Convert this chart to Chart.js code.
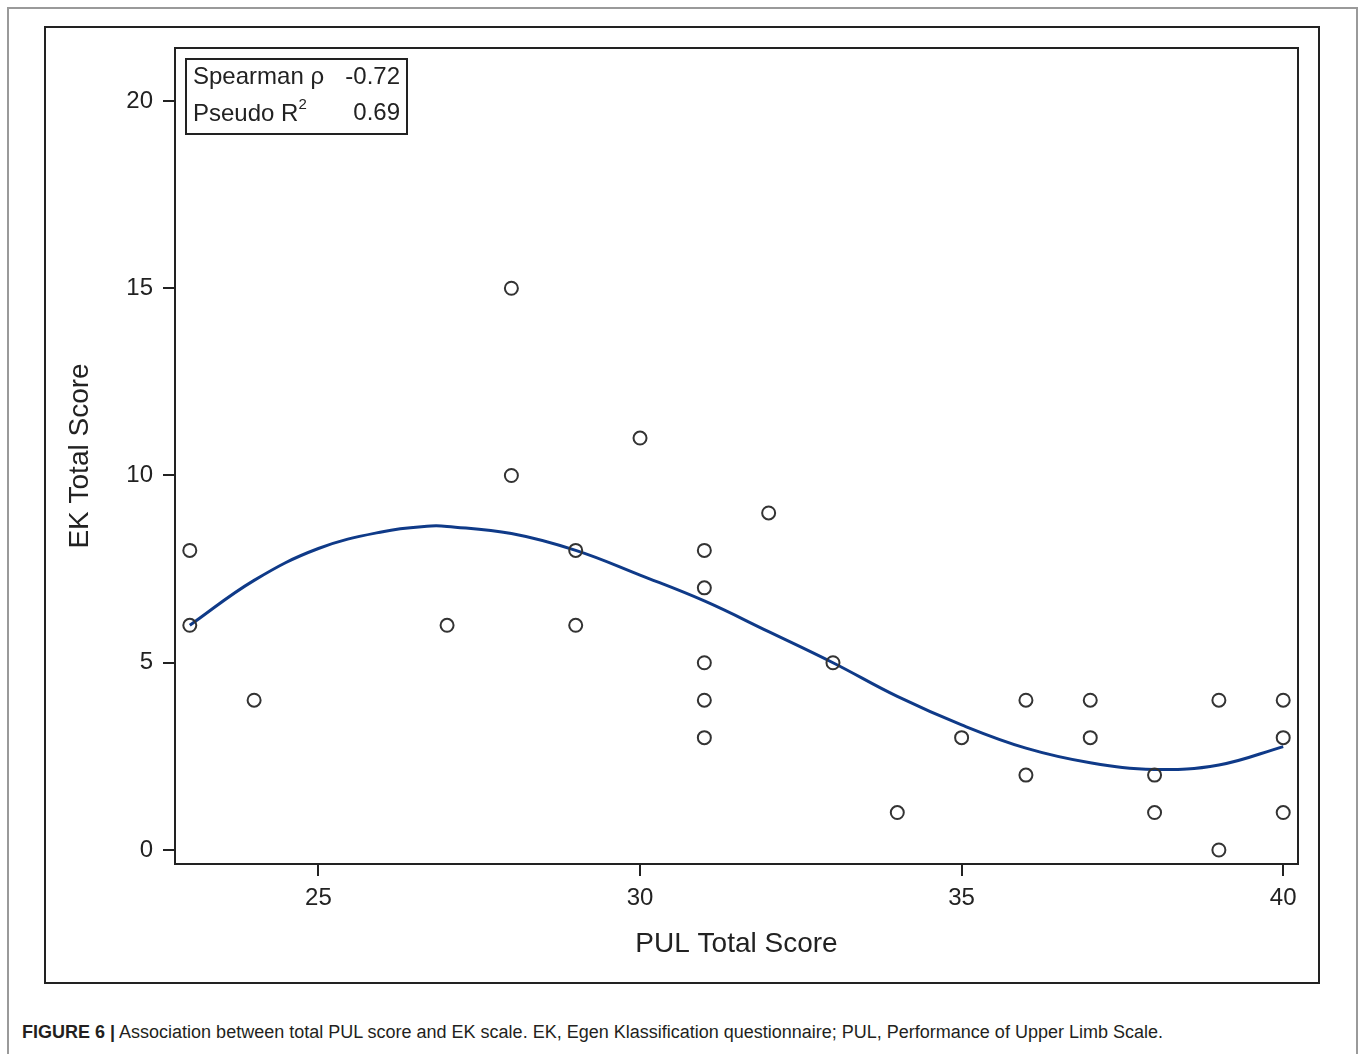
<!DOCTYPE html>
<html>
<head>
<meta charset="utf-8">
<script src="https://cdn.jsdelivr.net/npm/chart.js@4/dist/chart.umd.min.js"></script>
<style>
    body { margin: 0; background: #fff; font-family: "Liberation Sans", Arial, sans-serif; }
    #figure { position: absolute; left: 7px; top: 7px; width: 1347px; height: 1100px; border: 2px solid #9a9a9a; border-bottom: none; }
    #frame { position: absolute; left: 44px; top: 26px; width: 1272px; height: 954px; border: 2px solid #222; }
    #chart-box { position: absolute; left: 47px; top: 29px; width: 1271px; height: 952px; }
    #stats { position: absolute; left: 185px; top: 58px; width: 219px; height: 73px; border: 2px solid #222; font-size: 24px; color: #222; }
    #stats div { position: absolute; left: 6px; right: 6px; }
    #stats span.v { position: absolute; right: 0; }
    #stats sup { font-size: 15px; position: relative; top: -3px; }
    #caption { position: absolute; left: 22px; top: 1022px; font-size: 18px; color: #231f20; white-space: nowrap; }
</style>
</head>
<body>
<div id="figure"></div>
<div id="frame"></div>
<div id="chart-box"><canvas id="pul-chart"></canvas></div>
<div id="stats">
    <div style="top: 2px;">Spearman ρ<span class="v">-0.72</span></div>
    <div style="top: 38px;">Pseudo R<sup>2</sup><span class="v">0.69</span></div>
</div>
<div id="caption"><b>FIGURE 6 |</b> Association between total PUL score and EK scale. EK, Egen Klassification questionnaire; PUL, Performance of Upper Limb Scale.</div>
<script>
const pulScores = [23, 23, 24, 27, 28, 28, 29, 29, 30, 31, 31, 31, 31, 31, 32, 33, 34, 35, 36, 36, 37, 37, 38, 38, 39, 39, 40, 40, 40];
const ekScores  = [8, 6, 4, 6, 15, 10, 8, 6, 11, 8, 7, 5, 4, 3, 9, 5, 1, 3, 4, 2, 4, 3, 2, 1, 4, 0, 4, 3, 1];

// fitted curve
const fitX = [23, 24, 25, 26, 26.75, 27, 28, 29, 30, 31, 32, 33, 34, 35, 36, 37, 38, 39, 40];
const fitY = [6.0, 7.2, 8.05, 8.5, 8.65, 8.64, 8.45, 8.0, 7.34, 6.65, 5.83, 5.0, 4.1, 3.34, 2.72, 2.33, 2.15, 2.27, 2.76];

const xTicks = [25, 30, 35, 40];
const yTicks = [0, 5, 10, 15, 20];

const inkColor = "#222";
const fontFamily = "'Liberation Sans', Arial, sans-serif";

const framePlugin = {
    id: "frame",
    afterDraw(chart) {
        const { ctx, chartArea } = chart;
        ctx.save();
        ctx.strokeStyle = inkColor;
        ctx.lineWidth = 2;
        ctx.strokeRect(chartArea.left, chartArea.top, chartArea.right - chartArea.left, chartArea.bottom - chartArea.top);
        ctx.restore();
    }
};

const createPulChart = () => {
    const ctx = document.getElementById("pul-chart").getContext("2d");
    const points = pulScores.map((x, i) => ({ x: x, y: ekScores[i] }));
    const fit = fitX.map((x, i) => ({ x: x, y: fitY[i] }));
    new Chart(ctx, {
        type: "scatter",
        data: {
            datasets: [
                {
                    data: points,
                    pointRadius: 6.5,
                    pointBorderWidth: 2,
                    pointBorderColor: "#333",
                    pointBackgroundColor: "rgba(0,0,0,0)"
                },
                {
                    data: fit,
                    showLine: true,
                    borderColor: "#0f3a88",
                    borderWidth: 3,
                    pointRadius: 0,
                    tension: 0.4
                }
            ]
        },
        options: {
            responsive: true,
            maintainAspectRatio: false,
            animation: false,
            layout: { padding: { left: 0, top: 19, right: 20, bottom: 0 } },
            plugins: {
                legend: { display: false },
                tooltip: { enabled: false }
            },
            scales: {
                x: {
                    type: "linear",
                    min: 22.77,
                    max: 40.23,
                    afterBuildTicks: (scale) => { scale.ticks = xTicks.map(v => ({ value: v })); },
                    afterFit: (scale) => { scale.height = 117; scale.paddingLeft = 0; scale.paddingRight = 0; },
                    grid: { display: true, drawOnChartArea: false, drawTicks: true, tickLength: 12, color: inkColor, lineWidth: 2 },
                    border: { display: false },
                    ticks: { color: inkColor, padding: 8, font: { size: 24, family: fontFamily } },
                    title: { display: true, text: "PUL Total Score", color: inkColor, padding: { top: 0, bottom: 20 }, font: { size: 28, family: fontFamily } }
                },
                y: {
                    type: "linear",
                    min: -0.374,
                    max: 21.415,
                    afterBuildTicks: (scale) => { scale.ticks = yTicks.map(v => ({ value: v })); },
                    afterFit: (scale) => { scale.width = 128; scale.paddingTop = 0; scale.paddingBottom = 0; },
                    grid: { display: true, drawOnChartArea: false, drawTicks: true, tickLength: 12, color: inkColor, lineWidth: 2 },
                    border: { display: false },
                    ticks: { color: inkColor, padding: 10, font: { size: 24, family: fontFamily } },
                    title: { display: true, text: "EK Total Score", color: inkColor, padding: { top: 16, bottom: 0 }, font: { size: 28, family: fontFamily } }
                }
            }
        },
        plugins: [framePlugin]
    });
};

createPulChart();
</script>
</body>
</html>
